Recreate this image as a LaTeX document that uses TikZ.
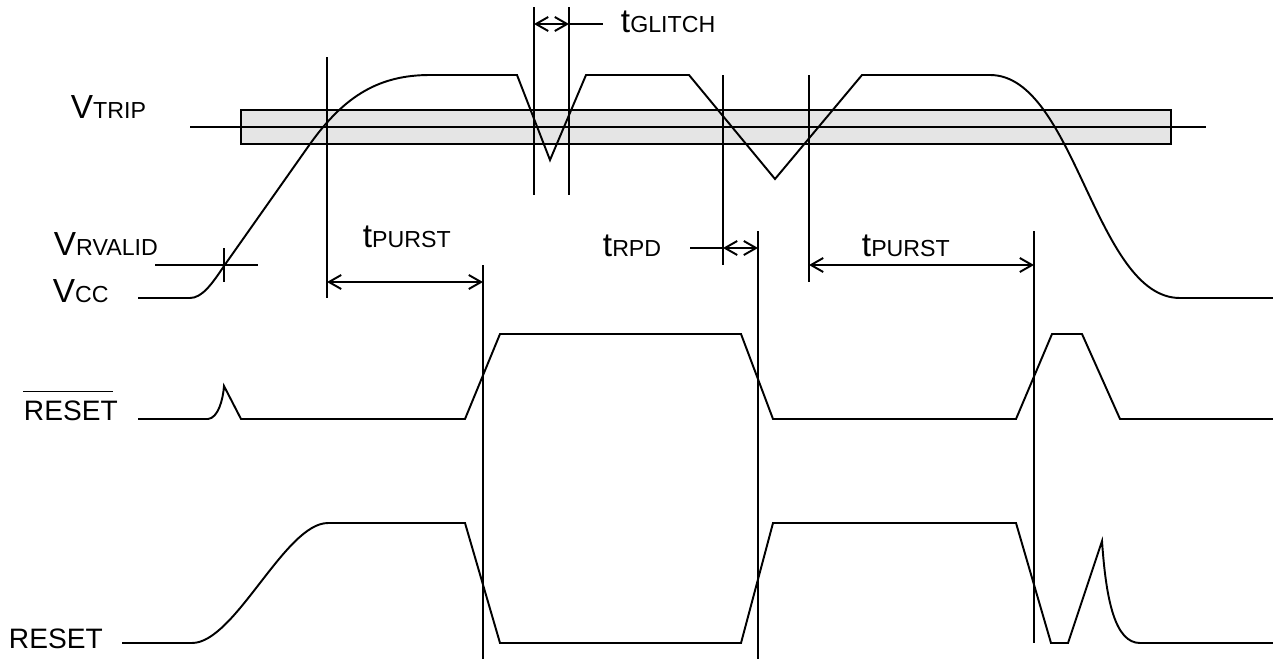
\documentclass[tikz,border=0pt]{standalone}
\usepackage{fontspec}
\setmainfont{Liberation Sans}
\usetikzlibrary{arrows.meta}

\newcommand{\bigsz}{\fontsize{19}{21}\selectfont}
\newcommand{\smsz}{\fontsize{13.2}{15}\selectfont}
\newcommand{\siglbl}[2]{{\bigsz #1}{\smsz #2}}

\begin{document}
\begin{tikzpicture}[x=0.02cm,y=-0.02cm,line width=1.1pt,
  >={Straight Barb[length=7pt,width=8pt]},
  lab/.style={anchor=base west,inner sep=0pt},
  markline/.style={line width=1.1pt}]
\useasboundingbox (0,0) rectangle (1273,659);
% trip band
\draw[fill=gray!20] (241,110) rectangle (1171,144);
\draw (190,127) -- (1206,127);
% Vcc
\draw (138,298) -- (190,298) .. controls (202,298) and (212,284) .. (224,266)
  -- (310,144) .. controls (345,95) and (380,75) .. (430,75) -- (517,75)
  -- (550,160) -- (586,75) -- (689,75) -- (775,179) -- (862,75) -- (990,75)
  .. controls (1075,75) and (1095,298) .. (1180,298) -- (1273,298);
% RESET bar
\draw (138,419) -- (208,419) .. controls (218,418) and (223,400) .. (224,386)
  -- (241,419) -- (465,419) -- (500,334) -- (741,334) -- (773,419)
  -- (1016,419) -- (1052,334) -- (1082,334) -- (1120,419) -- (1273,419);
% RESET
\draw (122,643) -- (192,643) .. controls (235,643) and (285,523) .. (328,523)
  -- (465,523) -- (500,643) -- (741,643) -- (773,523) -- (1016,523) -- (1051,643)
  -- (1068,643) -- (1102,541) .. controls (1106,600) and (1115,643) .. (1140,643)
  -- (1273,643);
% marker lines
\coordinate (rv1) at (224,248); \coordinate (rv2) at (224,282);
\coordinate (rh1) at (155,265); \coordinate (rh2) at (258,265);
\coordinate (pa1) at (327,57);  \coordinate (pa2) at (327,298);
\coordinate (pb1) at (483,265); \coordinate (pb2) at (483,659);
\coordinate (ga1) at (534,7);   \coordinate (ga2) at (534,195);
\coordinate (gb1) at (569,7);   \coordinate (gb2) at (569,195);
\coordinate (da1) at (723,75);  \coordinate (da2) at (723,265);
\coordinate (db1) at (758,231); \coordinate (db2) at (758,659);
\coordinate (qa1) at (809,75);  \coordinate (qa2) at (809,282);
\coordinate (qb1) at (1034,231); \coordinate (qb2) at (1034,643);
\foreach \m in {rv,rh,pa,pb,ga,gb,da,db,qa,qb}
  \draw[markline] (\m1) -- (\m2);
% timing arrows
\coordinate (g1) at (534,24); \coordinate (g2) at (569,24); \coordinate (g3) at (603,24);
\draw[<->] (g1) -- (g2); \draw (g2) -- (g3);
\coordinate (d0) at (690,248); \coordinate (d1) at (723,248); \coordinate (d2) at (758,248);
\draw (d0) -- (d1); \draw[<->] (d1) -- (d2);
\coordinate (p1) at (327,282); \coordinate (p2) at (483,282);
\draw[<->] (p1) -- (p2);
\coordinate (q1) at (809,265); \coordinate (q2) at (1034,265);
\draw[<->] (q1) -- (q2);
% labels
\node[lab] (vtrip) at (70,118) {\siglbl{V}{TRIP}};
\node[lab] (vrvalid) at (53,255) {\siglbl{V}{RVALID}};
\node[lab] (vcc) at (52,302) {\siglbl{V}{CC}};
\node[lab] (tglitch) at (620,32) {\siglbl{t}{GLITCH}};
\node[lab] (tpurst1) at (362,247) {\siglbl{t}{PURST}};
\node[lab] (trpd) at (602,256) {\siglbl{t}{RPD}};
\node[lab] (tpurst2) at (861,256) {\siglbl{t}{PURST}};
\node[lab] (resetn) at (23,420) {\fontsize{16}{18}\selectfont RESET};
\draw[line width=0.7pt] ([yshift=4.5pt]resetn.north west) -- ([yshift=4.5pt,xshift=-3pt]resetn.north east);
\node[lab] (reset) at (8,648) {\fontsize{16}{18}\selectfont RESET};
\end{tikzpicture}
\end{document}
